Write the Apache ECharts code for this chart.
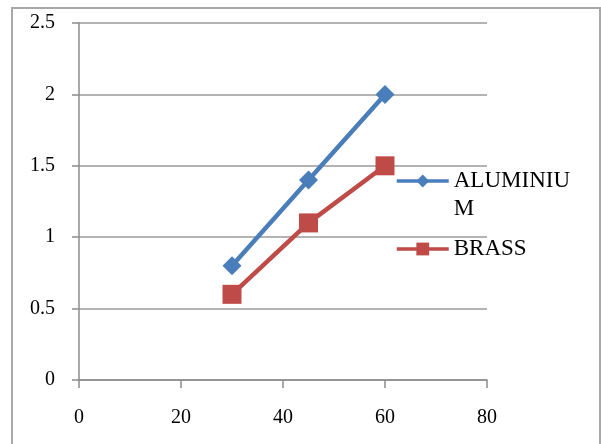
<!DOCTYPE html>
<html>
<head>
<meta charset="utf-8">
<script src="https://cdn.jsdelivr.net/npm/echarts@6/dist/echarts.min.js"></script>
<style>
  html, body { margin: 0; padding: 0; background: #fff; }
  #chart { width: 601px; height: 444px; }
</style>
</head>
<body>
<div id="chart"></div>
<script>
// Measurement points (x) and readings for each metal
const xValues = [30, 45, 60];
const aluminium = [0.8, 1.4, 2.0];
const brass = [0.6, 1.1, 1.5];
const xTicks = [0, 20, 40, 60, 80];
const yTicks = [0, 0.5, 1, 1.5, 2, 2.5];

const serif = '"Liberation Serif", "Times New Roman", serif';
const axisGrey = '#8c8c8c';

function pairs(ys) {
  return xValues.map((x, i) => [x, ys[i]]);
}

const legendCommon = {
  left: 395,
  padding: 0,
  itemWidth: 52,
  itemHeight: 16,
  itemGap: 5,
  lineStyle: { width: 3.5 },
  textStyle: { fontFamily: serif, fontSize: 23, color: '#000', lineHeight: 28 }
};

const chart = echarts.init(document.getElementById('chart'));
chart.setOption({
  animation: false,
  backgroundColor: '#fff',
  graphic: [{
    type: 'rect',
    shape: { x: 12, y: 8, width: 588, height: 460 },
    style: { fill: 'none', stroke: '#a8a8a8', lineWidth: 2 },
    silent: true
  }],
  grid: { left: 79, right: 114, top: 23, bottom: 64 },
  xAxis: {
    type: 'value',
    min: xTicks[0],
    max: xTicks[xTicks.length - 1],
    interval: xTicks[1] - xTicks[0],
    axisLine: { show: true, lineStyle: { color: axisGrey, width: 1.5 } },
    axisTick: { show: true, length: 8, lineStyle: { color: axisGrey, width: 1.5 } },
    splitLine: { show: false },
    axisLabel: { margin: 28, color: '#000', fontFamily: serif, fontSize: 20 }
  },
  yAxis: {
    type: 'value',
    min: yTicks[0],
    max: yTicks[yTicks.length - 1],
    interval: yTicks[1] - yTicks[0],
    axisLine: { show: true, lineStyle: { color: axisGrey, width: 1.5 } },
    axisTick: { show: true, length: 7, lineStyle: { color: axisGrey, width: 1.5 } },
    splitLine: { show: true, lineStyle: { color: '#9a9a9a', width: 1.5 } },
    axisLabel: { margin: 24, color: '#000', fontFamily: serif, fontSize: 20 }
  },
  legend: [Object.assign({}, legendCommon, {
    data: ['ALUMINIUM'],
    top: 139,
    // long name wraps onto a second line, first line level with the icon
    formatter: () => '\nALUMINIU\nM'
  }), Object.assign({}, legendCommon, {
    data: ['BRASS'],
    top: 235
  })],
  series: [{
    name: 'ALUMINIUM',
    type: 'line',
    data: pairs(aluminium),
    symbol: 'diamond',
    symbolSize: 19,
    color: '#4a7ebb',
    lineStyle: { width: 4.5, color: '#4a7ebb' },
    itemStyle: { color: '#4a7ebb' }
  }, {
    name: 'BRASS',
    type: 'line',
    data: pairs(brass),
    symbol: 'rect',
    symbolSize: 19,
    color: '#be4b48',
    lineStyle: { width: 4.5, color: '#be4b48' },
    itemStyle: { color: '#be4b48' }
  }]
});
</script>
</body>
</html>
